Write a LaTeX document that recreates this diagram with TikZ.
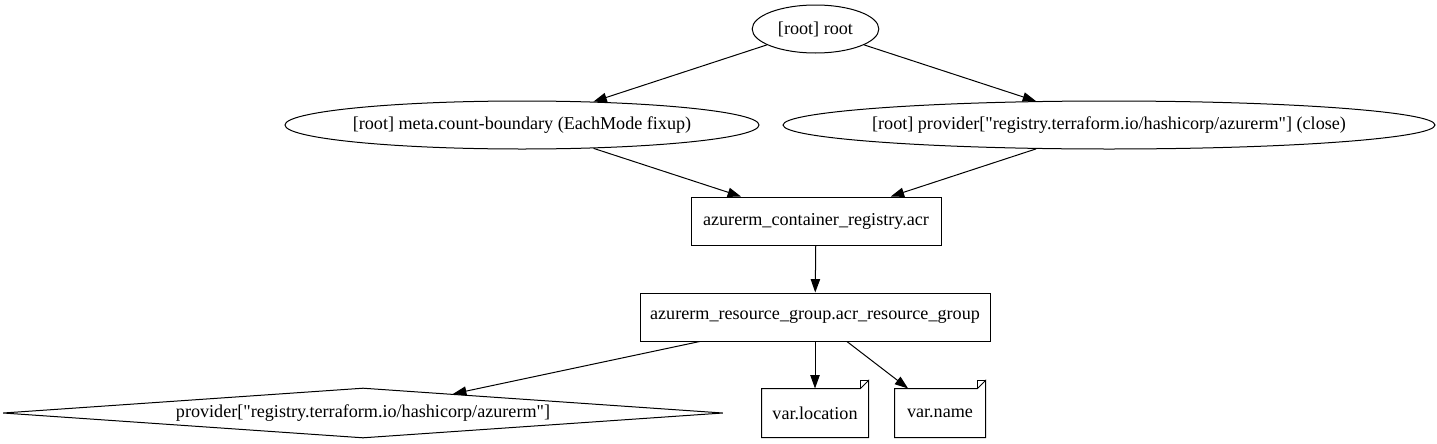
\documentclass[tikz,border=0pt]{standalone}
\usepackage{fontspec}
\setmainfont{Liberation Serif}[Ligatures=TeXOff]
\usetikzlibrary{arrows.meta,shapes.geometric}

\begin{document}
\begin{tikzpicture}[x=0.75pt,y=0.75pt,yscale=-1,xscale=1,line width=0.75pt,
  every node/.style={font=\fontsize{13.6}{16}\selectfont,inner sep=0pt},
  ell/.style={draw,ellipse,minimum height=36pt},
  box/.style={draw,rectangle,minimum height=36pt},
  notebox/.style={rectangle,minimum height=36pt},
  edge/.style={-{Triangle[length=10pt,width=7pt]}}]
\useasboundingbox (0,0) rectangle (1437,443);

%Shape: Ellipse [root]
\node [ell,minimum width=95pt] (root) at (815.5,29) {\makebox[0pt]{[root] root}};
%Shape: Ellipse [meta]
\node [ell,minimum width=355.5pt] (meta) at (522,125) {\makebox[0pt]{[root] meta.count-boundary (EachMode fixup)}};
%Shape: Ellipse [close]
\node [ell,minimum width=489pt] (close) at (1109,125) {\makebox[0pt]{[root] provider["registry.terraform.io/hashicorp/azurerm"] (close)}};
%Shape: Rectangle [acr]
\node [box,minimum width=187.5pt] (acr) at (816,221) {azurerm\_container\_registry.acr};
%Shape: Rectangle [rg]
\node [box,minimum width=262.5pt] (rg) at (815,317) {azurerm\_resource\_group.acr\_resource\_group};
%Shape: Diamond [prov]
\node [draw,diamond,aspect=14.4,minimum width=540pt,minimum height=37.5pt] (prov) at (363,413) {\makebox[0pt]{provider["registry.terraform.io/hashicorp/azurerm"]}};
%Shape: Note [loc]
\node [notebox,minimum width=79.5pt] (loc) at (815,413) {var.location};
%Shape: Note [name]
\node [notebox,minimum width=67.5pt] (name) at (940,413) {var.name};

% note outlines with folded corner
\foreach \n in {loc,name} {
  \draw (\n.south west) -- (\n.south east) -- ([yshift=-6pt]\n.north east)
    -- ([xshift=-6pt]\n.north east) -- (\n.north west) -- cycle;
  \draw [line width=0.5pt] ([xshift=-6pt]\n.north east) -- ([xshift=-6pt,yshift=-6pt]\n.north east)
    -- ([yshift=-6pt]\n.north east);
}

%Connectors
\draw [edge] (root) -- (meta);
\draw [edge] (root) -- (close);
\draw [edge] (meta) -- (acr);
\draw [edge] (close) -- (acr);
\draw [edge] (acr) -- (rg);
\draw [edge] (rg) -- (prov);
\draw [edge] (rg) -- (loc);
\draw [edge] (rg) -- (name);

\end{tikzpicture}
\end{document}
